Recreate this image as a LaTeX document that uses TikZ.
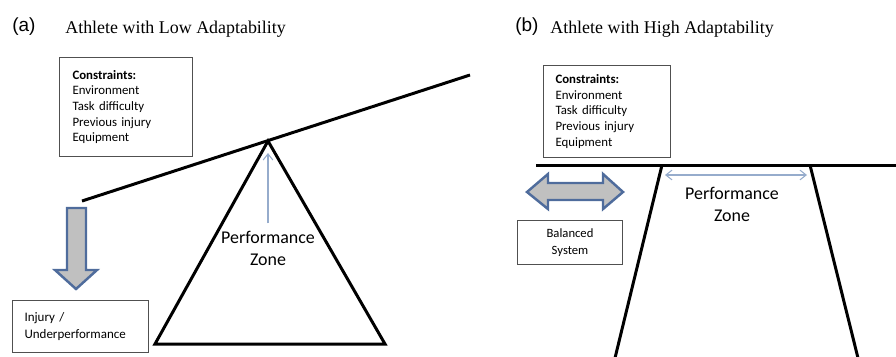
\documentclass[tikz,border=0pt]{standalone}
\usepackage{xcolor}
\usepackage{fontspec}
\setmainfont{Carlito}
\newfontfamily\titlefont{Liberation Serif}
\newfontfamily\tagfont{Liberation Sans}
\usepackage{tikz}
\usetikzlibrary{arrows,arrows.meta,positioning,calc}

\definecolor{arrowblue}{RGB}{79,108,156}
\definecolor{arrowgray}{RGB}{192,192,192}
\definecolor{thinblue}{RGB}{150,172,204}
\definecolor{boxgray}{RGB}{80,80,80}

\begin{document}
\begin{tikzpicture}[
    x=0.02cm, y=-0.02cm,
    >={Straight Barb[length=3.5pt,width=5.5pt]},
    tag/.style={anchor=base west, inner sep=0, font=\tagfont\fontsize{10.8}{13}\selectfont},
    heading/.style={anchor=base west, inner sep=0, font=\titlefont\fontsize{10.2}{12}\selectfont},
    infobox/.style={rectangle, draw=boxgray, line width=0.6pt, anchor=north west, font=\fontsize{7.3}{8.9}\selectfont},
    zone/.style={align=center, inner sep=4pt, font=\fontsize{10.2}{12.5}\selectfont},
    beam/.style={line width=1.7pt},
    stand/.style={line width=1.7pt},
    fatarrow/.style={draw=arrowblue, fill=arrowgray, line width=1.4pt, line join=miter},
    thinarrow/.style={draw=thinblue, line width=0.6pt}
]

\useasboundingbox (0,0) rectangle (896,356);

% (a) low adaptability
\node[tag] (tagA) at (12,31) {(a)};
\node[heading] (headA) at (65,33) {Athlete with Low Adaptability};

\node[infobox, align=left, inner xsep=0.26cm, text width=2.14cm, minimum height=1.98cm] (consA) at (59,57)
    {\textbf{Constraints:}\\Environment\\Task difficulty\\Previous injury\\Equipment};

\coordinate (beamL) at (82,201);
\coordinate (beamR) at (470,75);
\coordinate (apexA) at (268,141);
\coordinate (baseAL) at (155,344);
\coordinate (baseAR) at (385,344);
\coordinate (tipA) at (268,153);

\draw[stand] (apexA) -- (baseAR) -- (baseAL) -- cycle;
\draw[beam] (beamL) -- (beamR);

\node[zone] (zoneA) at (268,248) {Performance\\Zone};
\draw[thinarrow, ->] (zoneA.north) -- (tipA);

\draw[fatarrow] (67,208) -- (86,208) -- (86,270) -- (97,270) -- (76,289) -- (55,270) -- (67,270) -- cycle;

\node[infobox, align=left, inner xsep=0.24cm, text width=2.24cm, minimum height=1.04cm, font=\fontsize{7.4}{10.2}\selectfont] (injury) at (12,300)
    {Injury /\\Underperformance};

% (b) high adaptability
\node[tag] (tagB) at (515,31) {(b)};
\node[heading] (headB) at (550,33) {Athlete with High Adaptability};

\node[infobox, align=left, inner xsep=0.24cm, text width=2.06cm, minimum height=1.84cm] (consB) at (543,65)
    {\textbf{Constraints:}\\Environment\\Task difficulty\\Previous injury\\Equipment};

\coordinate (floorL) at (536,165);
\coordinate (floorR) at (896,165);
\coordinate (topBL) at (662,165);
\coordinate (topBR) at (810,165);
\coordinate (footBL) at (615,358);
\coordinate (footBR) at (858,358);

\draw[stand] (footBL) -- (topBL);
\draw[stand] (topBR) -- (footBR);
\draw[beam] (floorL) -- (floorR);

\coordinate (spanL) at (665,175);
\coordinate (spanR) at (807,175);
\draw[thinarrow, <->] (spanL) -- (spanR);
\node[zone] (zoneB) at (732,204.5) {Performance\\Zone};

\draw[fatarrow] (527,192) -- (548,174) -- (548,183) -- (603,183) -- (603,174) -- (623,192)
    -- (603,209) -- (603,200) -- (548,200) -- (548,209) -- cycle;

\node[infobox, align=center, inner sep=0pt, minimum width=2.1cm, minimum height=0.88cm, font=\fontsize{7.2}{9.7}\selectfont] (balanced) at (517,220)
    {Balanced\\System};

\end{tikzpicture}
\end{document}
